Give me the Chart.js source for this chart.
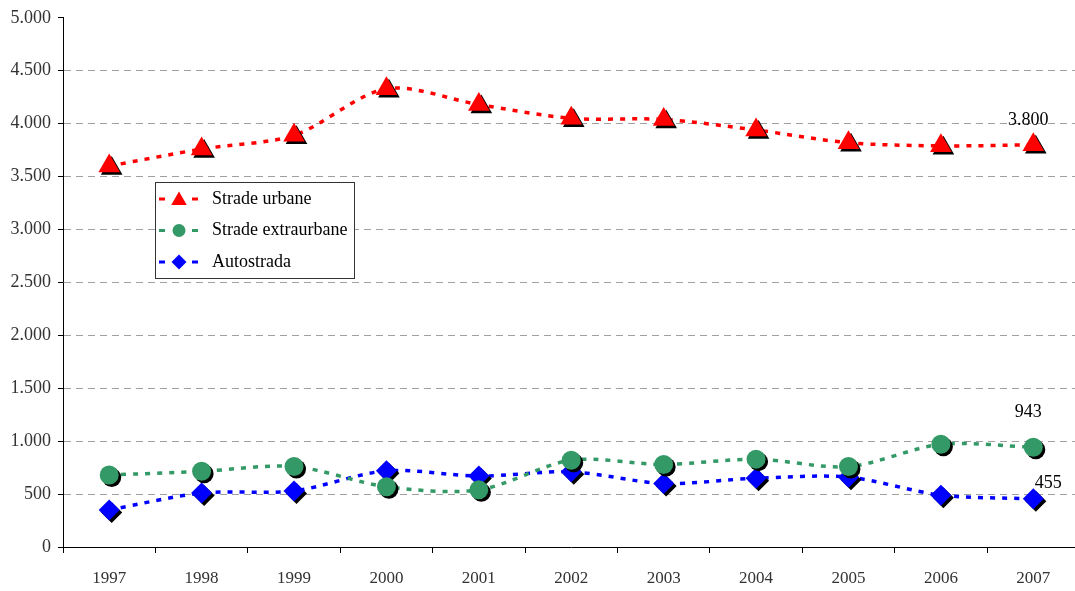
<!DOCTYPE html>
<html>
<head>
<meta charset="utf-8">
<script src="https://cdn.jsdelivr.net/npm/chart.js@4.4.1/dist/chart.umd.min.js"></script>
<style>
html,body{margin:0;padding:0;background:#fff;overflow:hidden;}
#wrap{width:1075px;height:591px;position:relative;overflow:hidden;}
</style>
</head>
<body>
<div id="wrap"><canvas id="c" width="1092" height="591"></canvas></div>
<script>
const years = ['1997','1998','1999','2000','2001','2002','2003','2004','2005','2006','2007'];
const stradeUrbane = [3600, 3760, 3890, 4330, 4180, 4050, 4040, 3940, 3820, 3790, 3800];
const stradeExtraurbane = [680, 715, 760, 570, 540, 820, 780, 830, 760, 970, 943];
const autostrada = [350, 510, 530, 720, 670, 710, 600, 650, 660, 490, 455];
const seriesNames = ['Strade urbane', 'Strade extraurbane', 'Autostrada'];
const yTicks = [0, 500, 1000, 1500, 2000, 2500, 3000, 3500, 4000, 4500, 5000];

function fmt(v){ return String(v).replace(/\B(?=(\d{3})+(?!\d))/g, '.'); }

// marker shadow
const origPointDraw = Chart.PointElement.prototype.draw;
Chart.PointElement.prototype.draw = function(ctx, area){
  ctx.save();
  ctx.shadowColor = '#000';
  ctx.shadowOffsetX = 2.5;
  ctx.shadowOffsetY = 2.5;
  ctx.shadowBlur = 0;
  origPointDraw.call(this, ctx, area);
  ctx.restore();
};

const SERIF = '"Liberation Serif", "DejaVu Serif", serif';

const extras = {
  id: 'extras',
  afterDraw(chart){
    const ctx = chart.ctx;
    // data labels on last points
    const lbls = [
      {ds:0, idx:10, dx:-5, dy:-25},
      {ds:1, idx:10, dx:-5, dy:-35},
      {ds:2, idx:10, dx:15, dy:-16}
    ];
    ctx.save();
    ctx.font = '18px ' + SERIF;
    ctx.fillStyle = '#000';
    ctx.textAlign = 'center';
    ctx.textBaseline = 'middle';
    lbls.forEach(l => {
      const p = chart.getDatasetMeta(l.ds).data[l.idx];
      const v = chart.data.datasets[l.ds].data[l.idx];
      ctx.fillText(fmt(v), p.x + l.dx, p.y + l.dy);
    });
    ctx.restore();

    // legend box
    const bx = 155.5, by = 182.5, bw = 199, bh = 96;
    ctx.save();
    ctx.fillStyle = '#fff';
    ctx.fillRect(bx, by, bw, bh);
    ctx.strokeStyle = '#333';
    ctx.lineWidth = 1;
    ctx.strokeRect(bx, by, bw, bh);
    chart.data.datasets.forEach((ds, i) => {
      const y = 199 + i * 31.5;
      ctx.strokeStyle = ds.borderColor;
      ctx.lineWidth = 3;
      ctx.setLineDash([]);
      ctx.beginPath();
      ctx.moveTo(159, y); ctx.lineTo(165, y);
      ctx.moveTo(192, y); ctx.lineTo(198, y);
      ctx.stroke();
      ctx.fillStyle = ds.borderColor;
      Chart.helpers.drawPoint(ctx, {
        pointStyle: ds.pointStyle,
        radius: ds.pointStyle === 'triangle' ? 9 : (ds.pointStyle === 'circle' ? 6.5 : 7.5),
        borderWidth: 0, rotation: 0
      }, 179, ds.pointStyle === 'triangle' ? y + 1.5 : y);
      ctx.fillStyle = '#000';
      ctx.font = '18px ' + SERIF;
      ctx.textAlign = 'left';
      ctx.textBaseline = 'middle';
      ctx.fillText(ds.label, 212, y);
    });
    ctx.restore();
  }
};

new Chart(document.getElementById('c'), {
  type: 'line',
  data: {
    labels: years,
    datasets: [
      {label: seriesNames[0], data: stradeUrbane, borderColor:'#ff0000', backgroundColor:'#ff0000',
       pointStyle:'triangle', pointRadius:12.5, pointBackgroundColor:'#ff0000'},
      {label: seriesNames[1], data: stradeExtraurbane, borderColor:'#339966', backgroundColor:'#339966',
       pointStyle:'circle', pointRadius:9.5, pointBackgroundColor:'#339966'},
      {label: seriesNames[2], data: autostrada, borderColor:'#0000ff', backgroundColor:'#0000ff',
       pointStyle:'rectRot', pointRadius:10.5, pointBackgroundColor:'#0000ff'}
    ].map(d => Object.assign(d, {borderWidth:3.5, borderDash:[5,7], tension:0.3, fill:false, pointBorderWidth:0}))
  },
  options: {
    responsive: false,
    animation: false,
    events: [],
    layout: {padding: {left: 0, right: 3, top: 16, bottom: 0}},
    plugins: {legend: {display:false}, tooltip: {enabled:false}},
    scales: {
      x: {
        offset: true,
        grid: {offset: true, drawOnChartArea: false, drawTicks: true, tickLength: 6, tickColor: '#000', tickWidth: 1},
        border: {display: true, color: '#000', width: 1},
        ticks: {font: {family: SERIF, size: 17}, color: '#333', padding: 15, maxRotation: 0, autoSkip: false},
        afterFit(s){ s.height = 44; }
      },
      y: {
        min: 0, max: 5000,
        afterBuildTicks(s){ s.ticks = yTicks.map(v => ({value: v})); },
        grid: {
          color: c => (c.tick && (c.tick.value === 0 || c.tick.value === 5000)) ? 'rgba(0,0,0,0)' : '#a0a0a0',
          tickColor: '#000', tickLength: 5, lineWidth: 1, drawTicks: true
        },
        border: {display: true, color: '#000', width: 1, dash: [7,5]},
        ticks: {font: {family: SERIF, size: 18}, color: '#333', padding: 7, callback: v => fmt(v)},
        afterFit(s){ s.width = 63; }
      }
    }
  },
  plugins: [extras]
});
</script>
</body>
</html>
